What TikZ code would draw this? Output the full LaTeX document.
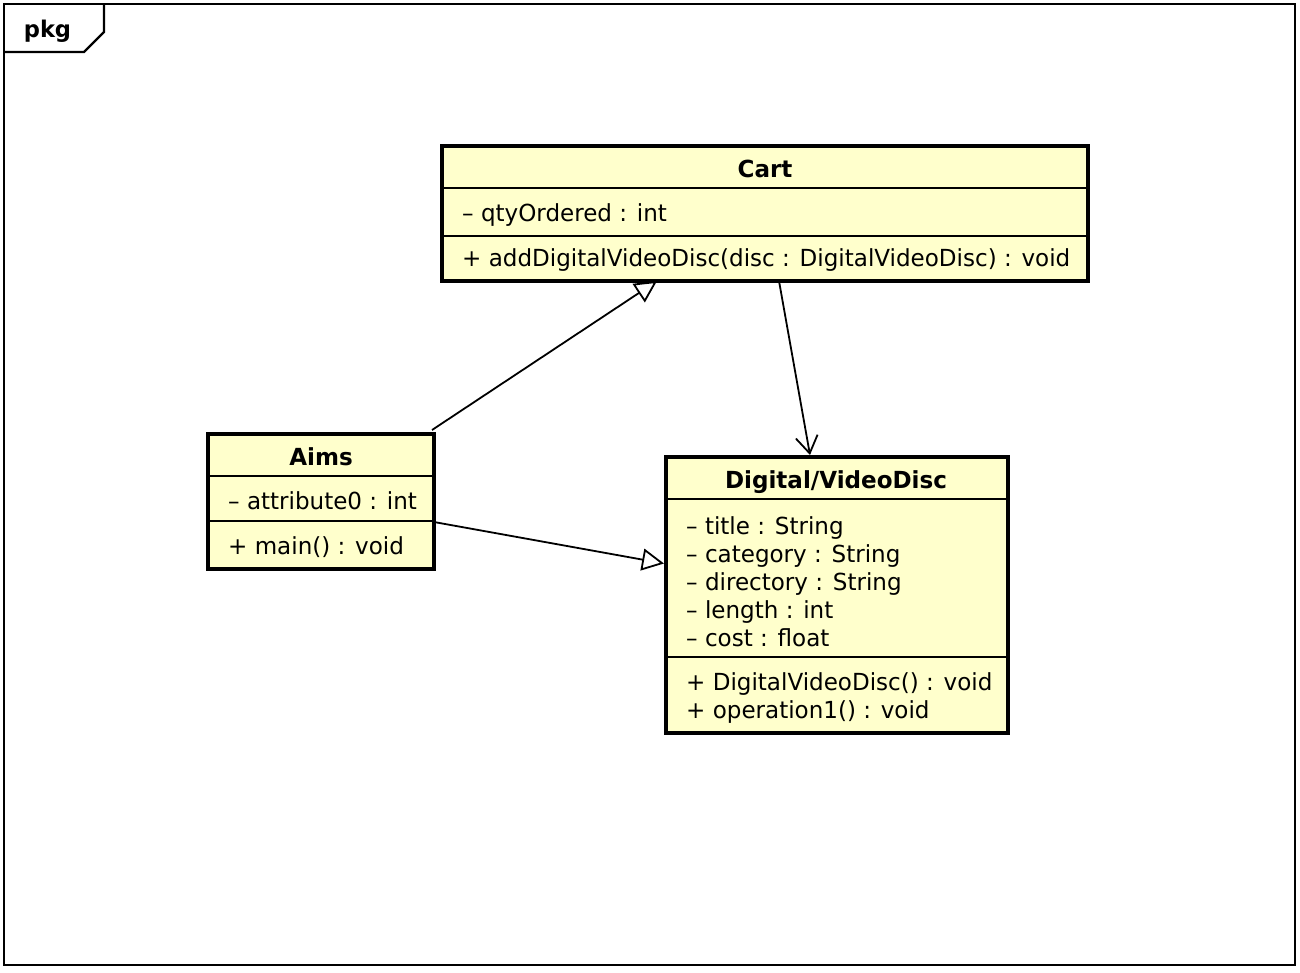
\documentclass[tikz,border=0pt]{standalone}
\usepackage{fontspec}
\setmainfont[FakeStretch=0.98]{DejaVu Sans}
\usetikzlibrary{arrows.meta,calc}
\definecolor{classfill}{RGB}{255,255,204}
\pgfdeclarelayer{bg}
\pgfsetlayers{bg,main}
\begin{document}
\begin{tikzpicture}[x=1pt,y=-1pt,
  classbox/.style={draw=black, line width=4pt, fill=classfill, rectangle,
    inner sep=0pt, outer sep=0pt, anchor=north west},
  divider/.style={line width=1.6pt},
  classtitle/.style={font=\fontsize{23.5}{23.5}\selectfont\bfseries, anchor=base, inner sep=0pt},
  member/.style={font=\fontsize{23.5}{23.5}\selectfont, anchor=base west, inner sep=0pt},
  gen/.style={line width=1.8pt, -{Triangle[open,length=22pt,width=22pt]}},
  nav/.style={line width=1.8pt, -{Straight Barb[length=17pt,width=22pt]}}]

\useasboundingbox (0,0) rectangle (1300,972);

% package frame with its name tab
\draw[line width=2.2pt] (4,4) rectangle (1295,965);
\draw[line width=2.2pt] (4,52) -- (84,52) -- (104,32) -- (104,4);
\node (pkg) [font=\fontsize{23}{23}\selectfont\bfseries, anchor=base, inner sep=0pt] at (47.5,37) {pkg};

% class Cart
\node (cart) [classbox, minimum width=646, minimum height=135] at (442,146) {};
\draw[divider] ($(cart.north west)+(0,42)$) -- ($(cart.north east)+(0,42)$);
\draw[divider] ($(cart.north west)+(0,90)$) -- ($(cart.north east)+(0,90)$);
\node (cartname) [classtitle] at (765,177) {Cart};
\node (cartattr) [member] at (462,221.5) {– qtyOrdered : int};
\node (cartop) [member] at (462,266.5) {+ addDigitalVideoDisc(disc : DigitalVideoDisc) : void};

% class Aims
\node (aims) [classbox, minimum width=226, minimum height=135] at (208,434) {};
\draw[divider] ($(aims.north west)+(0,42)$) -- ($(aims.north east)+(0,42)$);
\draw[divider] ($(aims.north west)+(0,87)$) -- ($(aims.north east)+(0,87)$);
\node (aimsname) [classtitle] at (321,465) {Aims};
\node (aimsattr) [member] at (228,509.5) {– attribute0 : int};
\node (aimsop) [member] at (228,554.5) {+ main() : void};

% class Digital/VideoDisc
\node (dvd) [classbox, minimum width=342, minimum height=276] at (666,457) {};
\draw[divider] ($(dvd.north west)+(0,42)$) -- ($(dvd.north east)+(0,42)$);
\draw[divider] ($(dvd.north west)+(0,200)$) -- ($(dvd.north east)+(0,200)$);
\node (dvdname) [classtitle] at (836,488) {Digital/VideoDisc};
\node (dvda1) [member] at (686,534) {– title : String};
\node (dvda2) [member] at (686,562) {– category : String};
\node (dvda3) [member] at (686,590) {– directory : String};
\node (dvda4) [member] at (686,618) {– length : int};
\node (dvda5) [member] at (686,646.5) {– cost : float};
\node (dvdo1) [member] at (686,690.5) {+ DigitalVideoDisc() : void};
\node (dvdo2) [member] at (686,718.5) {+ operation1() : void};

% relationships, kept beneath the class boxes
\begin{pgfonlayer}{bg}
  \fill[white] (0,0) rectangle (1300,972);
  \draw[gen] ($(aims.north east)+(-2,-4)$) -- ($(cart.south west)+(215,0)$);
  \draw[gen] ($(aims.north east)+(0,88)$) -- ($(dvd.north west)+(-2,106.5)$);
  \draw[nav] ($(cart.south west)+(337,0)$) -- ($(dvd.north west)+(144,-2)$);
\end{pgfonlayer}
\end{tikzpicture}
\end{document}
